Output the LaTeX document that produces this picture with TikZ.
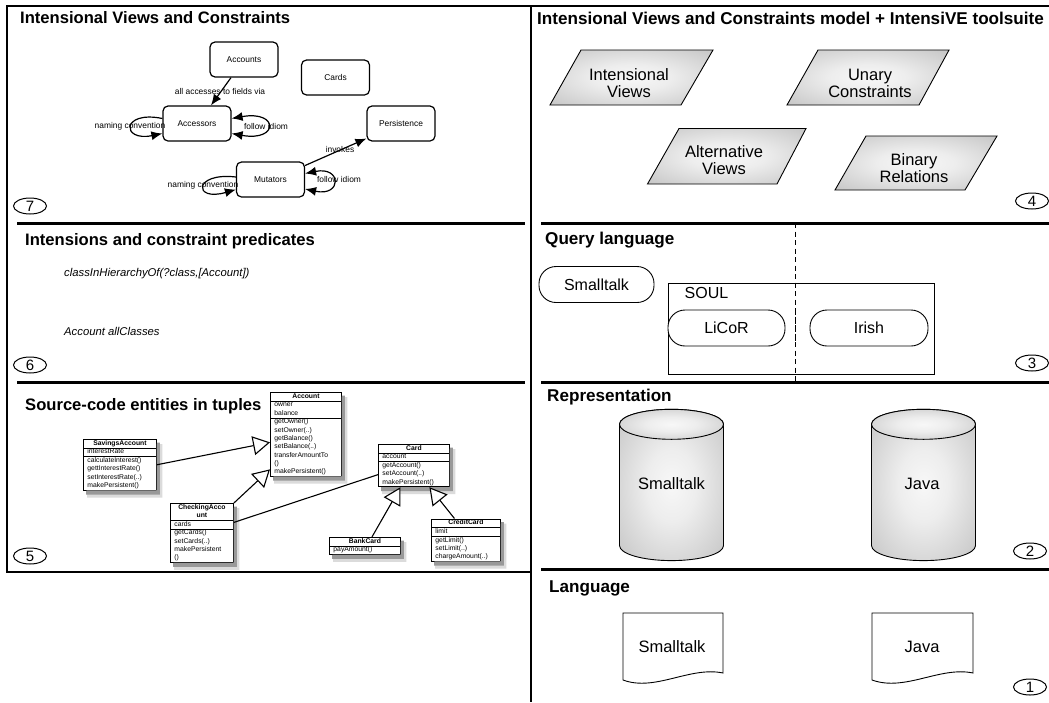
\documentclass[tikz,border=0pt]{standalone}
\usepackage{fontspec}
\setmainfont{Liberation Sans}
\usetikzlibrary{arrows.meta,shapes.geometric}

% soft grey fill: light centre, darker rim
\pgfdeclareradialshading{softgray}{\pgfpoint{0bp}{0bp}}{%
  color(0bp)=(black!3); color(12bp)=(black!7); color(50bp)=(black!32); color(72bp)=(black!36)}

\newcommand\umlfont{\fontsize{6.8}{8.3}\selectfont}
% drop shadow strips along the right and lower edges of a class box
\newcommand\umlshadow[1]{%
  \fill[black!14] ([yshift=-5pt]#1.north east) -- ([xshift=5.5pt,yshift=-5pt]#1.north east)
    -- ([xshift=5.5pt,yshift=-7pt]#1.south east) -- ([xshift=4pt,yshift=-7pt]#1.south west)
    -- ([xshift=4pt]#1.south west) -- (#1.south east) -- cycle;
  \fill[black!40] ([yshift=-3.5pt]#1.north east) -- ([xshift=3pt,yshift=-3.5pt]#1.north east)
    -- ([xshift=3pt,yshift=-4pt]#1.south east) -- ([xshift=3pt,yshift=-4pt]#1.south west)
    -- ([xshift=3pt]#1.south west) -- (#1.south east) -- cycle;}

\begin{document}
\begin{tikzpicture}[x=1pt,y=-1pt,
  frame/.style={line width=1.4pt},
  sep/.style={line width=3pt},
  titleL/.style={font=\fontsize{16.6}{18}\selectfont\bfseries, anchor=base west, inner sep=0pt},
  titleR/.style={font=\fontsize{17.1}{18}\selectfont\bfseries, anchor=base west, inner sep=0pt},
  num/.style={draw, ellipse, line width=1pt, minimum width=33pt, minimum height=16pt,
    inner sep=0pt, font=\fontsize{15}{15}\selectfont},
  view/.style={draw, rounded corners=5pt, line width=1.2pt, minimum width=68pt,
    minimum height=35pt, font=\fontsize{8.4}{10}\selectfont},
  lbl/.style={font=\fontsize{8.4}{10}\selectfont, inner sep=0pt},
  rel/.style={line width=1.2pt, -{Latex[length=11pt,width=9pt]}},
  relboth/.style={line width=1.2pt, {Latex[length=11pt,width=9pt]}-{Latex[length=11pt,width=9pt]}},
  pred/.style={font=\fontsize{11.3}{13}\selectfont\itshape, anchor=base west, inner sep=0pt},
  uml/.style={draw, line width=0.9pt, fill=white, inner sep=0pt, anchor=north west, font=\umlfont},
  inh/.style={line width=1.1pt, -{Triangle[length=17pt,width=19pt,fill=white,line width=1.1pt]}},
  assoc/.style={line width=1.1pt},
  para/.style={draw, line width=0.9pt, shading=softgray},
  big/.style={font=\fontsize{16.5}{17}\selectfont, align=center, inner sep=0pt},
  pill/.style={draw, line width=0.9pt, rounded corners=17pt, minimum height=36pt,
    font=\fontsize{16}{18}\selectfont},
  solid3d/.style={draw, line width=0.9pt, shading=softgray},
  doc/.style={draw, line width=0.9pt, fill=white}
]
\useasboundingbox (0,0) rectangle (1049,702);
\fill[white] (0,0) rectangle (1049,702);

% ---------- frames and separators ----------
\draw[frame] (7,6) rectangle (531,572);
\draw[frame] (531,6) -- (1049,6);
\draw[frame] (531,572) -- (531,702);
\draw[sep] (17,223) -- (525,223);
\draw[sep] (17,382) -- (525,382);
\draw[sep] (541,223) -- (1049,223);
\draw[sep] (541,382) -- (1049,382);
\draw[sep] (541,569) -- (1049,569);

% ---------- 7: intensional views and constraints ----------
\node[titleL] (t7) at (20,23.5) {Intensional Views and Constraints};
\node[view] (accounts) at (244,59.5) {Accounts};
\node[view] (cards) at (335.5,77.5) {Cards};
\node[view] (accessors) at (197,123.5) {Accessors};
\node[view] (persist) at (401,123.5) {Persistence};
\node[view] (mutators) at (270.5,179.5) {Mutators};

\draw[rel] ([xshift=-13pt]accounts.south) -- ([xshift=14pt]accessors.north);
\node[lbl] (lacc) at (220,91) {all accesses to fields via};
\draw[rel] ([yshift=5pt]accessors.west) .. controls (121,110) and (121,142) .. ([yshift=-10pt]accessors.west);
\node[lbl] (lnc1) at (130,126) {naming convention};
\draw[relboth] ([yshift=5pt]accessors.east) .. controls (279,110) and (279,142) .. ([yshift=-10pt]accessors.east);
\node[lbl] (lfi1) at (266,126) {follow idiom};

\draw[rel] ([yshift=14pt]mutators.east) -- ([yshift=-15pt]persist.west);
\node[lbl] (linv) at (340,149) {invokes};
\draw[rel] ([yshift=2.5pt]mutators.west) .. controls (193,172) and (193,202) .. ([yshift=-10pt]mutators.west);
\node[lbl] (lnc2) at (203,185) {naming convention};
\draw[relboth] ([yshift=6pt]mutators.east) .. controls (342,166) and (342,197) .. ([yshift=-9.5pt]mutators.east);
\node[lbl] (lfi2) at (339,179) {follow idiom};

\node[num] (n7) at (30,206) {7};

% ---------- 6: intensions and constraint predicates ----------
\node[titleL] (t6) at (25,245) {Intensions and constraint predicates};
\node[pred] (p1) at (64,276) {classInHierarchyOf(?class,[Account])};
\node[pred] (p2) at (64,335) {Account allClasses};
\node[num] (n6) at (30,365) {6};

% ---------- 5: source-code entities ----------
\node[titleL] (t5) at (25,410) {Source-code entities in tuples};

\node[uml] (acc) at (270,392) {\begin{tabular}{@{\hspace{4pt}}p{67pt}@{}}
\multicolumn{1}{@{}c@{}}{\textbf{Account}}\\\hline
owner\\ balance\\\hline
getOwner()\\ setOwner(..)\\ getBalance()\\ setBalance(..)\\ transferAmountTo\\ ()\\ makePersistent()
\end{tabular}};

\node[uml] (sav) at (83,439) {\begin{tabular}{@{\hspace{4pt}}p{69pt}@{}}
\multicolumn{1}{@{}c@{}}{\textbf{SavingsAccount}}\\\hline
interestRate\\\hline
calculateInterest()\\ gettInterestRate()\\ setInterestRate(..)\\ makePersistent()
\end{tabular}};

\node[uml] (chk) at (170,503) {\begin{tabular}{@{\hspace{4pt}}p{59pt}@{}}
\multicolumn{1}{@{}c@{}}{\textbf{CheckingAcco}}\\
\multicolumn{1}{@{}c@{}}{\textbf{unt}}\\\hline
cards\\\hline
getCards()\\ setCards(..)\\ makePersistent\\ ()
\end{tabular}};

\node[uml] (card) at (378,444) {\begin{tabular}{@{\hspace{4pt}}p{67pt}@{}}
\multicolumn{1}{@{}c@{}}{\textbf{Card}}\\\hline
account\\\hline
getAccount()\\ setAccount(..)\\ makePersistent()
\end{tabular}};

\node[uml] (bank) at (329,537) {\begin{tabular}{@{\hspace{4pt}}p{67pt}@{}}
\multicolumn{1}{@{}c@{}}{\textbf{BankCard}}\\\hline
payAmount()
\end{tabular}};

\node[uml] (credit) at (431,518.5) {\begin{tabular}{@{\hspace{4pt}}p{65pt}@{}}
\multicolumn{1}{@{}c@{}}{\textbf{CreditCard}}\\\hline
limit\\\hline
getLimit()\\ setLimit(..)\\ chargeAmount(..)
\end{tabular}};

% shadows beside the class boxes
\umlshadow{acc}\umlshadow{sav}\umlshadow{chk}
\umlshadow{card}\umlshadow{bank}\umlshadow{credit}

\draw[inh] (sav.east) -- ([yshift=-8pt]acc.west);
\draw[inh] (chk.north east) -- ([yshift=-35pt]acc.west);
\draw[assoc] ([yshift=10.5pt]chk.east) -- ([yshift=-9pt]card.west);
\draw[inh] ([xshift=7pt]bank.north) -- ([xshift=-13.5pt]card.south);
\draw[inh] ([xshift=-11.5pt]credit.north) -- ([xshift=15.5pt]card.south);

\node[num] (n5) at (30,556) {5};

% ---------- 4: model and tool suite ----------
\node[titleR] (t4) at (537,24) {Intensional Views and Constraints model + IntensiVE toolsuite};
\shadedraw[para] (550,105) -- (681,105) -- (713,50) -- (581,50) -- cycle;
\node[big] (ivt) at (629,83) {Intensional\\Views};
\shadedraw[para] (787,105) -- (919,105) -- (949,50) -- (818,50) -- cycle;
\node[big] (uct) at (870,83) {Unary\\Constraints};
\shadedraw[para] (647.5,184) -- (777,184) -- (806,128.5) -- (679,128.5) -- cycle;
\node[big] (avt) at (724,160) {Alternative\\Views};
\shadedraw[para] (835,190) -- (965,190) -- (997,136) -- (866,136) -- cycle;
\node[big] (brt) at (914,168) {Binary\\Relations};
\node[num] (n4) at (1032,201) {4};

% ---------- 3: query language ----------
\node[titleR] (t3) at (545,244) {Query language};
\draw[line width=1pt, dash pattern=on 5pt off 3.5pt] (795,223) -- (795,381);
\node[pill, minimum width=115pt] (qst) at (596.5,284.5) {Smalltalk};
\node[draw, line width=0.9pt, minimum width=266pt, minimum height=91pt, inner sep=0pt] (soul) at (801,328.5) {};
\node[font=\fontsize{16}{18}\selectfont, inner sep=0pt] (soult) at (706.5,293) {SOUL};
\node[pill, minimum width=117pt, fill=white] (licor) at (726.5,328) {LiCoR};
\node[pill, minimum width=118pt, fill=white] (irish) at (869,328) {Irish};
\draw[line width=1pt, dash pattern=on 5pt off 3.5pt] (795,310) -- (795,346);
\node[num] (n3) at (1032,363) {3};

% ---------- 2: representation ----------
\node[titleR] (t2) at (547,401.5) {Representation};
\shadedraw[solid3d] (619.5,424.3) -- (619.5,545.6)
  arc[start angle=180, end angle=360, x radius=52pt, y radius=15pt] -- (723.5,424.3)
  arc[start angle=0, end angle=180, x radius=52pt, y radius=15pt] -- cycle;
\shadedraw[solid3d] (671.5,424.3) ellipse[x radius=52pt, y radius=15pt];
\node[big] (rst) at (671.5,483.6) {Smalltalk};
\shadedraw[solid3d] (871.5,424.3) -- (871.5,545.6)
  arc[start angle=180, end angle=360, x radius=52pt, y radius=15pt] -- (975.5,424.3)
  arc[start angle=0, end angle=180, x radius=52pt, y radius=15pt] -- cycle;
\shadedraw[solid3d] (923.5,424.3) ellipse[x radius=52pt, y radius=15pt];
\node[big] (rjv) at (922,483.6) {Java};
\node[num] (n2) at (1030,551) {2};

% ---------- 1: language ----------
\node[titleR] (t1) at (549,592) {Language};
\draw[doc] (623,613) -- (723,613) -- (723,673) .. controls (690,666) and (655,692) .. (623,680) -- cycle;
\node[big] (lst) at (672,646.5) {Smalltalk};
\draw[doc] (872,613) -- (973,613) -- (973,673) .. controls (940,666) and (905,692) .. (872,680) -- cycle;
\node[big] (ljv) at (922,646.5) {Java};
\node[num] (n1) at (1030,687) {1};
\end{tikzpicture}
\end{document}
